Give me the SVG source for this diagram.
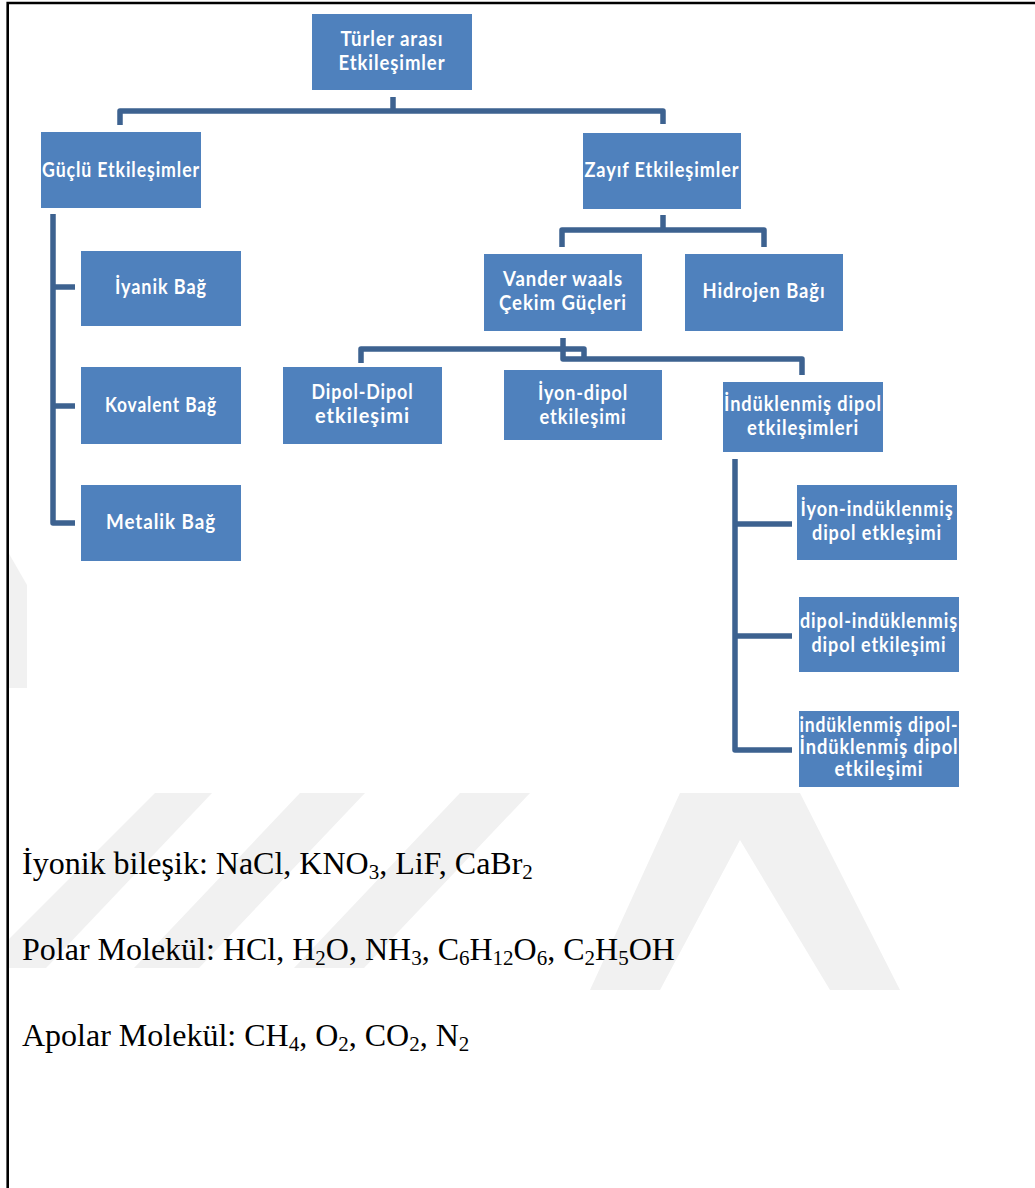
<svg xmlns="http://www.w3.org/2000/svg" width="1035" height="1188" viewBox="0 0 1035 1188">
<style>
.n{fill:#4f81bd}
.t{fill:#ffffff;font-family:Lato,"Open Sans","DejaVu Sans",sans-serif;font-weight:700;font-size:20px;letter-spacing:1px;text-anchor:middle}
.c{fill:none;stroke:#3d6290;stroke-width:5.5;stroke-linejoin:round}
.b{font-family:"Liberation Serif","Times New Roman",serif;font-size:32px;fill:#000}
.s{font-size:21px}
.w{fill:#f1f1f1}
</style>
<rect width="1035" height="1188" fill="#ffffff"/>
<g id="watermark">
<polygon class="w" points="8,552 27,585 27,688 8,688"/>
<polygon class="w" points="155,793 212,793 46,968 8,968 8,940"/>
<polygon class="w" points="300,793 365,793 199,968 134,968"/>
<polygon class="w" points="460,793 530,793 364,968 294,968"/>
<polygon class="w" points="590,990 680,793 800,793 900,990 830,990 740,840 660,990"/>
</g>
<g id="frame" fill="none" stroke="#000" stroke-width="2.6">
<path d="M1035,3 H7.7 V1188"/>
</g>
<g id="connectors">
<path class="c" d="M393,97 V111"/>
<path class="c" d="M120,125 V111 H663 V124"/>
<path class="c" d="M53,214 V523 H75"/>
<path class="c" d="M53,287 H75"/>
<path class="c" d="M53,406 H75"/>
<path class="c" d="M663,215 V230"/>
<path class="c" d="M562,247 V230 H764 V247"/>
<path class="c" d="M563,338 V359 H802 V375"/>
<path class="c" d="M584,359 V349 H361 V363"/>
<path class="c" d="M735,459 V750 H792"/>
<path class="c" d="M735,524 H792"/>
<path class="c" d="M735,636 H792"/>
</g>
<g id="n-turler">
<rect class="n" x="312" y="14" width="160" height="76"/>
<text class="t" x="392" y="46" textLength="103" lengthAdjust="spacingAndGlyphs">Türler arası</text>
<text class="t" x="392" y="70" textLength="107" lengthAdjust="spacingAndGlyphs">Etkileşimler</text>
</g>
<g id="n-guclu">
<rect class="n" x="41" y="132" width="160" height="76"/>
<text class="t" x="121" y="177" textLength="158" lengthAdjust="spacingAndGlyphs">Güçlü Etkileşimler</text>
</g>
<g id="n-iyanik">
<rect class="n" x="81" y="251" width="160" height="75"/>
<text class="t" x="161" y="294" textLength="92" lengthAdjust="spacingAndGlyphs">İyanik Bağ</text>
</g>
<g id="n-kovalent">
<rect class="n" x="81" y="367" width="160" height="77"/>
<text class="t" x="161" y="412" textLength="112" lengthAdjust="spacingAndGlyphs">Kovalent Bağ</text>
</g>
<g id="n-metalik">
<rect class="n" x="81" y="485" width="160" height="76"/>
<text class="t" x="161" y="529" textLength="110" lengthAdjust="spacingAndGlyphs">Metalik Bağ</text>
</g>
<g id="n-zayif">
<rect class="n" x="583" y="133" width="158" height="76"/>
<text class="t" x="662" y="177" textLength="155" lengthAdjust="spacingAndGlyphs">Zayıf Etkileşimler</text>
</g>
<g id="n-vander">
<rect class="n" x="484" y="254" width="158" height="77"/>
<text class="t" x="563" y="286" textLength="120" lengthAdjust="spacingAndGlyphs">Vander waals</text>
<text class="t" x="563" y="310" textLength="128" lengthAdjust="spacingAndGlyphs">Çekim Güçleri</text>
</g>
<g id="n-hidrojen">
<rect class="n" x="685" y="254" width="158" height="77"/>
<text class="t" x="764" y="298" textLength="123" lengthAdjust="spacingAndGlyphs">Hidrojen Bağı</text>
</g>
<g id="n-dipol">
<rect class="n" x="283" y="367" width="159" height="77"/>
<text class="t" x="362.5" y="399" textLength="102" lengthAdjust="spacingAndGlyphs">Dipol-Dipol</text>
<text class="t" x="362.5" y="423" textLength="95" lengthAdjust="spacingAndGlyphs">etkileşimi</text>
</g>
<g id="n-iyondipol">
<rect class="n" x="504" y="370" width="158" height="70"/>
<text class="t" x="583" y="400" textLength="90" lengthAdjust="spacingAndGlyphs">İyon-dipol</text>
<text class="t" x="583" y="424" textLength="87" lengthAdjust="spacingAndGlyphs">etkileşimi</text>
</g>
<g id="n-induklenmis">
<rect class="n" x="723" y="382" width="160" height="70"/>
<text class="t" x="803" y="411" textLength="158" lengthAdjust="spacingAndGlyphs">İndüklenmiş dipol</text>
<text class="t" x="803" y="435" textLength="112" lengthAdjust="spacingAndGlyphs">etkileşimleri</text>
</g>
<g id="n-iyon-ind">
<rect class="n" x="797" y="485" width="160" height="75"/>
<text class="t" x="877" y="516" textLength="153" lengthAdjust="spacingAndGlyphs">İyon-indüklenmiş</text>
<text class="t" x="877" y="540" textLength="130" lengthAdjust="spacingAndGlyphs">dipol etkleşimi</text>
</g>
<g id="n-dipol-ind">
<rect class="n" x="799" y="597" width="160" height="75"/>
<text class="t" x="879" y="628" textLength="158" lengthAdjust="spacingAndGlyphs">dipol-indüklenmiş</text>
<text class="t" x="879" y="652" textLength="135" lengthAdjust="spacingAndGlyphs">dipol etkileşimi</text>
</g>
<g id="n-ind-ind">
<rect class="n" x="799" y="711" width="160" height="76"/>
<text class="t" x="879" y="732" textLength="159" lengthAdjust="spacingAndGlyphs">indüklenmiş dipol-</text>
<text class="t" x="879" y="754" textLength="159" lengthAdjust="spacingAndGlyphs">İndüklenmiş dipol</text>
<text class="t" x="879" y="776" textLength="89" lengthAdjust="spacingAndGlyphs">etkileşimi</text>
</g>
<g id="notes">
<text class="b" x="22" y="874">İyonik bileşik: NaCl, KNO<tspan class="s" dy="5">3</tspan><tspan dy="-5">, LiF, CaBr</tspan><tspan class="s" dy="5">2</tspan></text>
<text class="b" x="22" y="960">Polar Molekül: HCl, H<tspan class="s" dy="5">2</tspan><tspan dy="-5">O, NH</tspan><tspan class="s" dy="5">3</tspan><tspan dy="-5">, C</tspan><tspan class="s" dy="5">6</tspan><tspan dy="-5">H</tspan><tspan class="s" dy="5">12</tspan><tspan dy="-5">O</tspan><tspan class="s" dy="5">6</tspan><tspan dy="-5">, C</tspan><tspan class="s" dy="5">2</tspan><tspan dy="-5">H</tspan><tspan class="s" dy="5">5</tspan><tspan dy="-5">OH</tspan></text>
<text class="b" x="22" y="1046">Apolar Molekül: CH<tspan class="s" dy="5">4</tspan><tspan dy="-5">, O</tspan><tspan class="s" dy="5">2</tspan><tspan dy="-5">, CO</tspan><tspan class="s" dy="5">2</tspan><tspan dy="-5">, N</tspan><tspan class="s" dy="5">2</tspan></text>
</g>
</svg>
